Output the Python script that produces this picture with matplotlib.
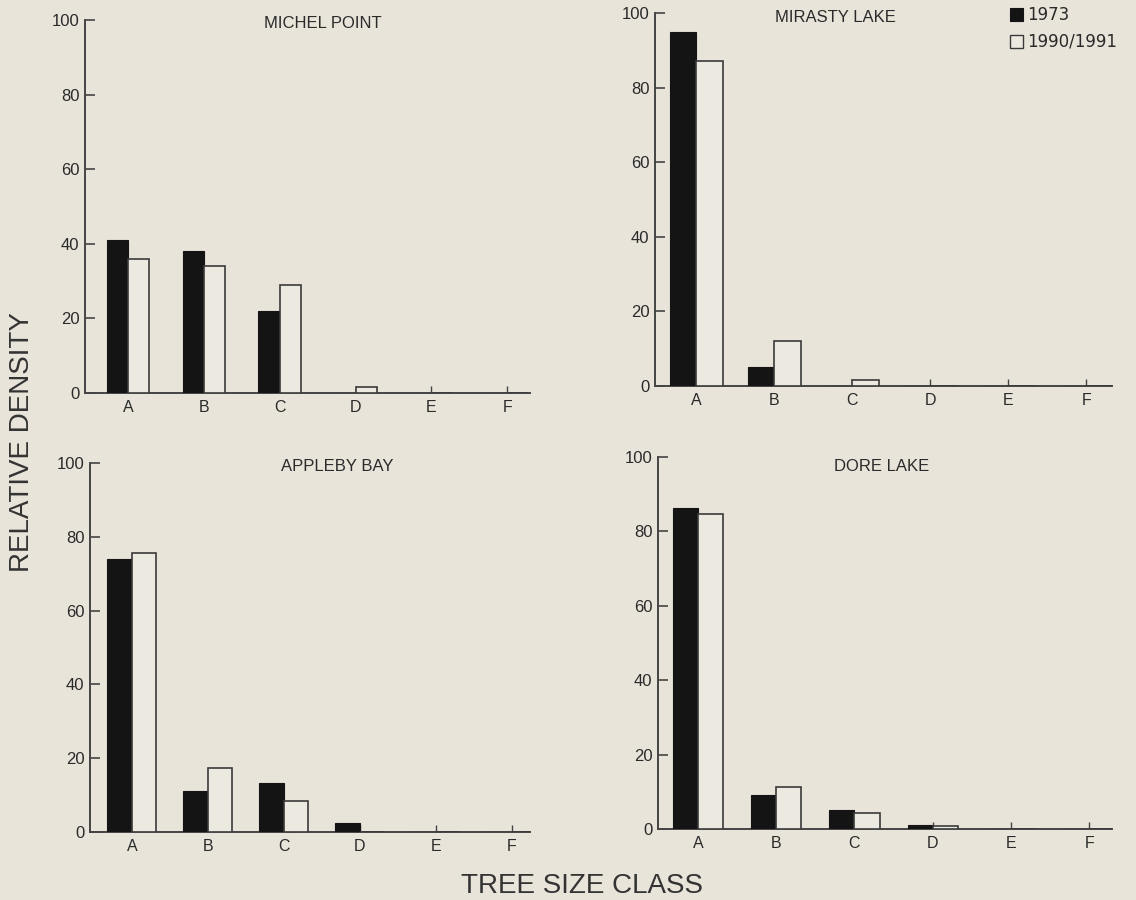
import matplotlib
matplotlib.use("Agg")
import matplotlib.pyplot as plt
import numpy as np
from matplotlib.patches import Rectangle

plt.rcParams['font.family'] = ['Liberation Sans', 'DejaVu Sans']

categories = ["A", "B", "C", "D", "E", "F"]
sites = ["MICHEL POINT", "MIRASTY LAKE", "APPLEBY BAY", "DORE LAKE"]
yticks = [0, 20, 40, 60, 80, 100]

michel_1973 = [41, 38, 22, 0, 0, 0]
michel_1990 = [36, 34, 29, 1.5, 0, 0]
mirasty_1973 = [95, 5, 0, 0, 0, 0]
mirasty_1990 = [87, 12, 1.5, 0, 0, 0]
appleby_1973 = [74, 11, 13.4, 2.4, 0, 0]
appleby_1990 = [75.5, 17.3, 8.5, 0, 0, 0]
dore_1973 = [86.3, 9.1, 5.1, 1.0, 0, 0]
dore_1990 = [84.7, 11.3, 4.3, 0.8, 0, 0]

series_1973 = [michel_1973, mirasty_1973, appleby_1973, dore_1973]
series_1990 = [michel_1990, mirasty_1990, appleby_1990, dore_1990]

bg = '#e8e4da'
ink = '#2a2a2a'

fig = plt.figure(figsize=(11.36, 9.0), dpi=100, facecolor=bg)

# [left, bottom, width, height], xlim, bar width, title position (fig px)
layout = [
    ([85/1136, 1-393/900, 445/1136, 373/900], (-0.567, 5.30), 0.28, (323, 23)),
    ([655/1136, 1-386/900, 457/1136, 373/900], (-0.526, 5.33), 0.34, (835, 17)),
    ([90/1136, 1-832/900, 440/1136, 369/900], (-0.55, 5.24), 0.32, (337, 467)),
    ([658/1136, 1-829/900, 454/1136, 372/900], (-0.51, 5.29), 0.32, (882, 467)),
]

x = np.arange(len(categories))
for i, (rect, xlim, w, tpos) in enumerate(layout):
    ax = fig.add_axes(rect)
    ax.set_facecolor('none')
    ax.bar(x - w/2, series_1973[i], width=w, color='#141414', edgecolor='#141414',
           linewidth=0.8, zorder=3)
    ax.bar(x + w/2, series_1990[i], width=w, color='#ece9e1', edgecolor='#3a3a3a',
           linewidth=1.2, zorder=3)
    ax.set_xlim(*xlim)
    ax.set_ylim(0, 100)
    ax.set_xticks(x)
    ax.set_xticklabels(categories)
    ax.set_yticks(yticks)
    ax.set_yticklabels([str(t) for t in yticks])
    for s in ['top', 'right']:
        ax.spines[s].set_visible(False)
    for s in ['left', 'bottom']:
        ax.spines[s].set_color('#444444')
        ax.spines[s].set_linewidth(1.4)
    ax.tick_params(axis='y', direction='in', length=7, width=1.2, color='#444444',
                   labelsize=12, labelcolor=ink, pad=4)
    ax.tick_params(axis='x', direction='in', length=5, width=1.0, color='#444444',
                   labelsize=11.5, labelcolor=ink, pad=5)
    fig.text(tpos[0]/1136, 1 - tpos[1]/900, sites[i], ha='center', va='center',
             fontsize=12, color=ink)

# Axis titles
fig.text(22/1136, 1 - 442/900, "RELATIVE DENSITY", rotation=90, ha='center', va='center',
         fontsize=20, color='#333333')
fig.text(582/1136, 1 - 886/900, "TREE SIZE CLASS", ha='center', va='center',
         fontsize=20, color='#333333')

# Legend
fig.patches.append(Rectangle((1010/1136, 1-21/900), 13/1136, 13/900, transform=fig.transFigure,
                             facecolor='#141414', edgecolor='#141414', lw=0.8))
fig.patches.append(Rectangle((1010/1136, 1-48/900), 13/1136, 13/900, transform=fig.transFigure,
                             facecolor='#ece9e1', edgecolor='#3a3a3a', lw=1.0))
fig.text(1027/1136, 1 - 15/900, "1973", ha='left', va='center', fontsize=12,
         color=ink, family=['DejaVu Sans'])
fig.text(1027/1136, 1 - 42/900, "1990/1991", ha='left', va='center', fontsize=12,
         color=ink, family=['DejaVu Sans'])

fig.savefig("out.png", dpi=100, facecolor=bg)
